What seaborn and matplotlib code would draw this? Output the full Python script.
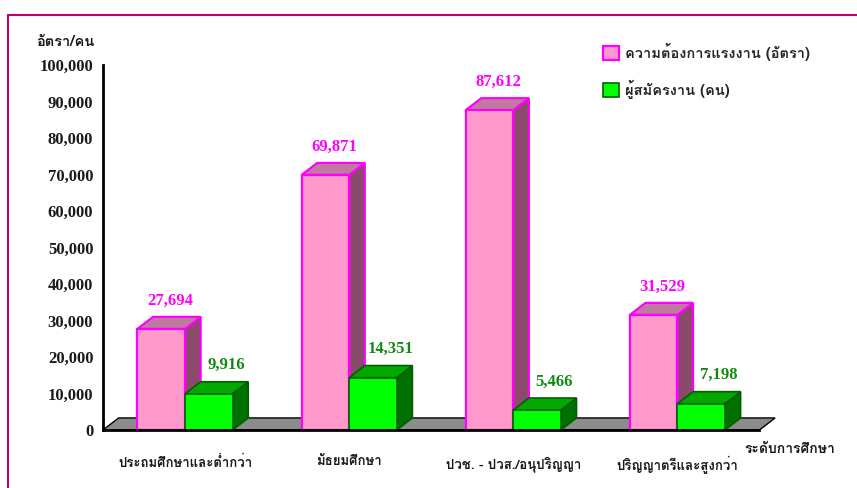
import numpy as np
import pandas as pd
import matplotlib
matplotlib.use("Agg")
import matplotlib.pyplot as plt
import seaborn as sns
from matplotlib import font_manager
from matplotlib.ft2font import FT2Font
from matplotlib.patches import Polygon, Rectangle
from matplotlib.lines import Line2D

# data
levels = ["ประถมศึกษาและต่ำกว่า", "มัธยมศึกษา", "ปวช. - ปวส./อนุปริญญา", "ปริญญาตรีและสูงกว่า"]
demand = [27694, 69871, 87612, 31529]
applicants = [9916, 14351, 5466, 7198]
series_names = ["ความต้องการแรงงาน (อัตรา)", "ผู้สมัครงาน (คน)"]
y_ticks = list(range(0, 100001, 10000))
y_title = "อัตรา/คน"
x_title = "ระดับการศึกษา"


def find_thai_family():
    # look for any installed font that has Thai glyphs
    for f in font_manager.fontManager.ttflist:
        try:
            if 0x0E01 in FT2Font(f.fname).get_charmap():
                return f.name
        except Exception:
            pass
    return None


thai = find_thai_family()
thai_fam = [thai, "DejaVu Sans"] if thai else ["DejaVu Sans"]
num_fam = ["Liberation Serif", "DejaVu Serif"]

sns.set_style("white")
plt.rcParams["font.family"] = thai_fam

df = pd.DataFrame({
    "level": levels * 2,
    "value": demand + applicants,
    "series": [series_names[0]] * 4 + [series_names[1]] * 4,
})

# face colours: front, top, side, edge, label
styles = [
    dict(front="#FF99CC", top="#C07AA0", side="#8A4A6A", edge="#FF00FF", label="#FF00FF", dxl=0.55),
    dict(front="#00FF00", top="#00A800", side="#007000", edge="#006000", label="#118811", dxl=1.1),
]
dx, dy = 0.095, 3300

fig = plt.figure(figsize=(8.57, 4.88), dpi=100)
ax = fig.add_axes([103 / 857, 58 / 488, 677 / 857, 365 / 488])

sns.barplot(data=df, x="level", y="value", hue="series", order=levels,
            palette=[styles[0]["front"], styles[1]["front"]], saturation=1,
            width=0.58, dodge=True, legend=False, ax=ax)

# floor
floor = Polygon([(-0.5, 0), (-0.5 + dx, dy), (3.5 + dx, dy), (3.5, 0)],
                closed=True, facecolor="#8C8C8C", edgecolor="black", lw=1, zorder=1)
ax.add_patch(floor)

for k, cont in enumerate(ax.containers):
    st = styles[k]
    z = 2 + k
    for bar in cont:
        x0, w, h = bar.get_x(), bar.get_width(), bar.get_height()
        bar.set_edgecolor(st["edge"])
        bar.set_linewidth(1.6 if k == 0 else 1.2)
        bar.set_zorder(z + 0.2)
        top = Polygon([(x0, h), (x0 + dx, h + dy), (x0 + w + dx, h + dy), (x0 + w, h)],
                      closed=True, facecolor=st["top"], edgecolor=st["edge"],
                      lw=bar.get_linewidth(), zorder=z)
        side = Polygon([(x0 + w, 0), (x0 + w, h), (x0 + w + dx, h + dy), (x0 + w + dx, dy)],
                       closed=True, facecolor=st["side"], edgecolor=st["edge"],
                       lw=bar.get_linewidth(), zorder=z)
        ax.add_patch(side)
        ax.add_patch(top)
        ax.text(x0 + w / 2 + dx * st["dxl"], h + dy + 2300, f"{int(h):,}",
                ha="center", va="bottom", fontsize=12, fontweight="bold",
                family=num_fam, color=st["label"], zorder=10, clip_on=False)

ax.set_xlim(-0.5, 3.5 + 0.125)
ax.set_ylim(0, 100000)
ax.set_yticks(y_ticks)
ax.set_yticklabels([f"{v:,}" for v in y_ticks], fontsize=12, fontweight="bold",
                   family=num_fam, color="#1a1a1a")
ax.set_xticks([-0.5, 0.5, 1.5, 2.5, 3.5])
ax.set_xticklabels([])
ax.set_xticks([0, 1, 2, 3], minor=True)
ax.set_xticklabels(levels, minor=True, fontsize=9.5, fontweight="bold", color="#1a1a1a")
ax.tick_params(axis="x", which="minor", length=0, pad=19)
ax.tick_params(axis="x", which="major", direction="out", length=7, width=1.8, color="black")
ax.tick_params(axis="y", direction="out", length=6, width=1.5, color="black", pad=1)
ax.set_xlabel("")
ax.set_ylabel("")
for s in ["top", "right"]:
    ax.spines[s].set_visible(False)
for s in ["left", "bottom"]:
    ax.spines[s].set_color("black")
    ax.spines[s].set_linewidth(2)
    ax.spines[s].set_zorder(6)
ax.spines["bottom"].set_bounds(-0.5, 3.5)

fig.text(65 / 857, 1 - 42 / 488, y_title, ha="center", va="center",
         fontsize=10.5, fontweight="bold", color="#1a1a1a")
fig.text(790 / 857, 1 - 450 / 488, x_title, ha="center", va="center",
         fontsize=10, fontweight="bold", color="#1a1a1a")

handles = [Rectangle((0, 0), 1, 1, facecolor=styles[0]["front"], edgecolor=styles[0]["edge"], lw=1.6),
           Rectangle((0, 0), 1, 1, facecolor=styles[1]["front"], edgecolor=styles[1]["edge"], lw=1.2)]
fig.legend(handles, series_names, loc="upper left", bbox_to_anchor=(590 / 857, 1 - 30 / 488),
           frameon=False, handlelength=1.1, handleheight=1.1, handletextpad=0.4,
           labelspacing=1.3, prop=dict(size=10.5, weight="bold"))

# frame lines of the page
fig.add_artist(Line2D([8 / 857, 1], [1 - 15 / 488, 1 - 15 / 488], transform=fig.transFigure,
                      color="#C8006E", lw=1.5))
fig.add_artist(Line2D([8 / 857, 8 / 857], [0, 1 - 15 / 488], transform=fig.transFigure,
                      color="#C8006E", lw=1.5))

fig.savefig("out.png", dpi=100)
